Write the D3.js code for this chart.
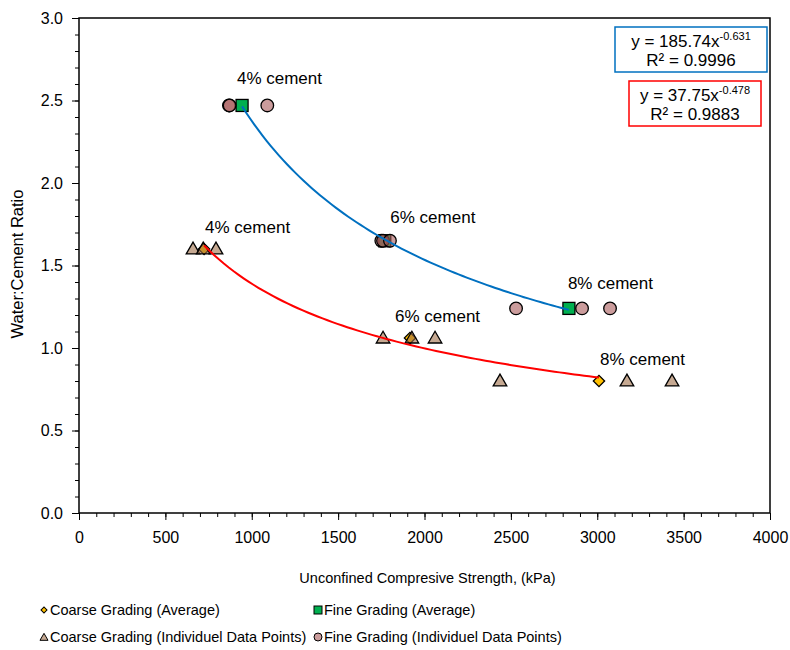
<!DOCTYPE html>
<html>
<head>
<meta charset="utf-8">
<script src="https://cdn.jsdelivr.net/npm/d3@7"></script>
<style>
  body { margin: 0; background: #fff; }
  text { font-family: "Liberation Sans", Arial, sans-serif; fill: #000; }
</style>
</head>
<body>
<div id="chart"></div>
<script>
// Data ---------------------------------------------------------------------------------------------------------------
const cementLabels = ["4% cement", "6% cement", "8% cement"];

const coarseAvgX = [724, 1916, 3010];
const coarseAvgY = [1.60, 1.06, 0.80];
const fineAvgX = [944, 1770, 2836];
const fineAvgY = [2.47, 1.65, 1.24];

const coarseIndX = [660, 719, 793, 1760, 1927, 2061, 2437, 3172, 3433];
const coarseIndY = [1.60, 1.60, 1.60, 1.06, 1.06, 1.06, 0.80, 0.80, 0.80];
const fineIndX = [868, 872, 1090, 1750, 1760, 1800, 2530, 2912, 3074];
const fineIndY = [2.47, 2.47, 2.47, 1.65, 1.65, 1.65, 1.24, 1.24, 1.24];

const fineFit = { a: 185.74, b: -0.631, r2: "0.9996" };
const coarseFit = { a: 37.75, b: -0.478, r2: "0.9883" };

const xTicks = [0, 500, 1000, 1500, 2000, 2500, 3000, 3500, 4000];
const yTicks = [0.0, 0.5, 1.0, 1.5, 2.0, 2.5, 3.0];

// Canvas -------------------------------------------------------------------------------------------------------------
const canvasWidth = 790;
const canvasHeight = 650;
const plotLeft = 79, plotRight = 770, plotTop = 18, plotBottom = 513;

const svg = d3.select("#chart")
  .append("svg")
  .attr("width", canvasWidth)
  .attr("height", canvasHeight);

const xScale = d3.scaleLinear().domain([0, 4000]).range([plotLeft, plotRight]);
const yScale = d3.scaleLinear().domain([0, 3]).range([plotBottom, plotTop]);

// Axes ---------------------------------------------------------------------------------------------------------------
const tickFontSize = "16px";
const xMinor = d3.range(0, 4001, 100);
const yMinor = d3.range(0, 30.1, 1).map(d => d / 10);

svg.append("g")
  .attr("transform", "translate(0," + plotBottom + ")")
  .call(d3.axisBottom(xScale).tickValues(xMinor).tickSize(4).tickFormat(""))
  .call(g => g.select(".domain").remove())
  .selectAll("line").attr("stroke", "#000");

svg.append("g")
  .attr("transform", "translate(" + plotLeft + ",0)")
  .call(d3.axisLeft(yScale).tickValues(yMinor).tickSize(4).tickFormat(""))
  .call(g => g.select(".domain").remove())
  .selectAll("line").attr("stroke", "#000");

const xAxis = svg.append("g")
  .attr("transform", "translate(0," + plotBottom + ")")
  .call(d3.axisBottom(xScale).tickValues(xTicks).tickSize(7).tickPadding(12).tickFormat(d3.format("d")));
xAxis.select(".domain").remove();
xAxis.selectAll("line").attr("stroke", "#000");
xAxis.selectAll("text").style("font-size", tickFontSize).style("font-family", "Liberation Sans, Arial, sans-serif");

const yAxis = svg.append("g")
  .attr("transform", "translate(" + plotLeft + ",0)")
  .call(d3.axisLeft(yScale).tickValues(yTicks).tickSize(7).tickPadding(9).tickFormat(d3.format(".1f")));
yAxis.select(".domain").remove();
yAxis.selectAll("line").attr("stroke", "#000");
yAxis.selectAll("text").style("font-size", tickFontSize).style("font-family", "Liberation Sans, Arial, sans-serif");

// plot frame
svg.append("rect")
  .attr("x", plotLeft).attr("y", plotTop)
  .attr("width", plotRight - plotLeft).attr("height", plotBottom - plotTop)
  .attr("fill", "none")
  .attr("stroke", "#000")
  .attr("stroke-width", 1.5);

svg.append("text")
  .text("Unconfined Compresive Strength, (kPa)")
  .attr("x", (plotLeft + plotRight) / 2 + 3)
  .attr("y", 583)
  .attr("text-anchor", "middle")
  .style("font-size", "14.5px");

svg.append("text")
  .text("Water:Cement Ratio")
  .attr("transform", "translate(23," + 264 + ") rotate(-90)")
  .attr("text-anchor", "middle")
  .style("font-size", "16.5px");

// Marker shapes ------------------------------------------------------------------------------------------------------
const triangle = d3.symbol().type(d3.symbolTriangle).size(80);

function drawAverages(g, xs, ys, kind) {
  xs.forEach(function(x, i) {
    if (kind === "square") {
      g.append("rect")
        .attr("x", xScale(x) - 6).attr("y", yScale(ys[i]) - 6)
        .attr("width", 12).attr("height", 12)
        .attr("fill", "#00b050").attr("stroke", "#000").attr("stroke-width", 1.3);
    } else {
      g.append("path")
        .attr("d", d3.symbol().type(d3.symbolSquare).size(64)())
        .attr("transform", "translate(" + xScale(x) + "," + yScale(ys[i]) + ") rotate(45)")
        .attr("fill", "#ffc000").attr("stroke", "#000").attr("stroke-width", 1.3);
    }
  });
}

const markers = svg.append("g");
drawAverages(markers, coarseAvgX, coarseAvgY, "diamond");
drawAverages(markers, fineAvgX, fineAvgY, "square");

coarseIndX.forEach(function(x, i) {
  markers.append("path")
    .attr("d", triangle())
    .attr("transform", "translate(" + xScale(x) + "," + (yScale(coarseIndY[i]) + 1) + ")")
    .attr("fill", "#a0704a").attr("fill-opacity", 0.6)
    .attr("stroke", "#000").attr("stroke-width", 1.3);
});

fineIndX.forEach(function(x, i) {
  markers.append("circle")
    .attr("cx", xScale(x)).attr("cy", yScale(fineIndY[i]))
    .attr("r", 6.3)
    .attr("fill", "#a85a5a").attr("fill-opacity", 0.6)
    .attr("stroke", "#000").attr("stroke-width", 1.3);
});

// Trendlines ---------------------------------------------------------------------------------------------------------
const line = d3.line().x(d => xScale(d[0])).y(d => yScale(d[1]));

function powerCurve(fit, x0, x1) {
  const pts = [];
  const n = 80;
  for (let i = 0; i <= n; i++) {
    const x = x0 + (x1 - x0) * i / n;
    pts.push([x, fit.a * Math.pow(x, fit.b)]);
  }
  return pts;
}

svg.append("path")
  .attr("d", line(powerCurve(fineFit, fineAvgX[0], fineAvgX[2])))
  .attr("fill", "none").attr("stroke", "#0070c0").attr("stroke-width", 2);

svg.append("path")
  .attr("d", line(powerCurve(coarseFit, coarseAvgX[0], coarseAvgX[2])))
  .attr("fill", "none").attr("stroke", "#ff0000").attr("stroke-width", 2);

// Point labels -------------------------------------------------------------------------------------------------------
const labelFont = "17px";
const fineLabelX = [xScale(fineIndX[0]) + 8, xScale(fineIndX[3]) + 9, xScale(fineAvgX[2]) - 1];
const fineLabelDy = [-21, -18, -19];
fineAvgY.forEach(function(y, i) {
  svg.append("text")
    .text(cementLabels[i])
    .attr("x", fineLabelX[i])
    .attr("y", yScale(y) + fineLabelDy[i])
    .style("font-size", labelFont);
});
const coarseLabelX = [xScale(coarseAvgX[0]) + 1, xScale(coarseIndX[3]) + 12, xScale(coarseAvgX[2]) + 1];
coarseAvgY.forEach(function(y, i) {
  svg.append("text")
    .text(cementLabels[i])
    .attr("x", coarseLabelX[i])
    .attr("y", yScale(y) - 16)
    .style("font-size", labelFont);
});

// Equation boxes -----------------------------------------------------------------------------------------------------
function eqBox(fit, x, y, w, color) {
  const g = svg.append("g").attr("transform", "translate(" + x + "," + y + ")");
  g.append("rect")
    .attr("width", w).attr("height", 45)
    .attr("fill", "#fff").attr("stroke", color).attr("stroke-width", 1.5);
  const t = g.append("text")
    .attr("x", w / 2).attr("y", 20)
    .attr("text-anchor", "middle")
    .style("font-size", "17px");
  t.append("tspan").text("y = " + fit.a + "x");
  t.append("tspan").text(String(fit.b)).attr("dy", -7).style("font-size", "11px");
  g.append("text")
    .text("R² = " + fit.r2)
    .attr("x", w / 2).attr("y", 39)
    .attr("text-anchor", "middle")
    .style("font-size", "17px");
}
eqBox(fineFit, 615, 27, 152, "#0070c0");
eqBox(coarseFit, 629, 81, 132, "#ff0000");

// Legend -------------------------------------------------------------------------------------------------------------
const legendItems = [
  { label: "Coarse Grading (Average)", kind: "diamond", x: 44, y: 610 },
  { label: "Fine Grading (Average)", kind: "square", x: 318, y: 610 },
  { label: "Coarse Grading (Individuel Data Points)", kind: "triangle", x: 44, y: 637 },
  { label: "Fine Grading (Individuel Data Points)", kind: "circle", x: 318, y: 637 }
];
legendItems.forEach(function(d) {
  const g = svg.append("g").attr("transform", "translate(" + d.x + "," + d.y + ")");
  if (d.kind === "diamond") {
    g.append("path").attr("d", d3.symbol().type(d3.symbolSquare).size(18)())
      .attr("transform", "rotate(45)")
      .attr("fill", "#ffc000").attr("stroke", "#000").attr("stroke-width", 1);
  } else if (d.kind === "square") {
    g.append("rect").attr("x", -4).attr("y", -4).attr("width", 8).attr("height", 8)
      .attr("fill", "#00b050").attr("stroke", "#000").attr("stroke-width", 1);
  } else if (d.kind === "triangle") {
    g.append("path").attr("d", d3.symbol().type(d3.symbolTriangle).size(28)())
      .attr("transform", "translate(0,1)")
      .attr("fill", "#c6a992").attr("stroke", "#000").attr("stroke-width", 1);
  } else {
    g.append("circle").attr("r", 4)
      .attr("fill", "#cb9c9c").attr("stroke", "#000").attr("stroke-width", 1);
  }
  g.append("text")
    .text(d.label)
    .attr("x", 6)
    .attr("y", 5)
    .style("font-size", "14.5px");
});
</script>
</body>
</html>
